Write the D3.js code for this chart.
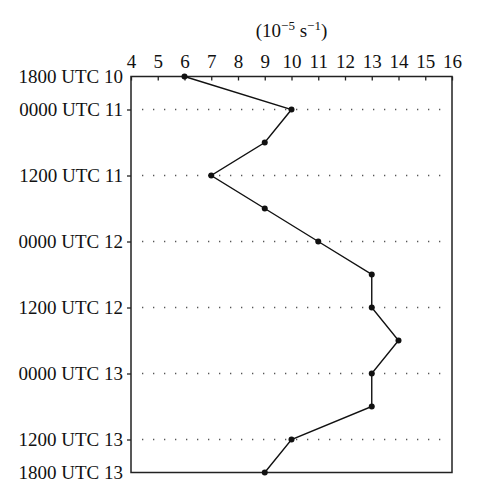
<!DOCTYPE html>
<html>
<head>
<meta charset="utf-8">
<script src="https://cdn.jsdelivr.net/npm/d3@7"></script>
<style>
body { margin: 0; background: #fff; }
text { font-family: "Liberation Serif", "DejaVu Serif", serif; fill: #111; }
</style>
</head>
<body>
<script>
// hours after 1800 UTC 10 and the value at each time
const hours = [0, 6, 12, 18, 24, 30, 36, 42, 48, 54, 60, 66, 72];
const values = [6, 10, 9, 7, 9, 11, 13, 13, 14, 13, 13, 10, 9];
const xTicks = [4, 5, 6, 7, 8, 9, 10, 11, 12, 13, 14, 15, 16];
const yTickHours = [0, 6, 18, 30, 42, 54, 66, 72];
const yTickLabels = ['1800 UTC 10', '0000 UTC 11', '1200 UTC 11', '0000 UTC 12',
                     '1200 UTC 12', '0000 UTC 13', '1200 UTC 13', '1800 UTC 13'];
const gridHours = [6, 18, 30, 42, 54, 66];

const width = 477, height = 500;
const plotLeft = 131, plotRight = 452, plotTop = 76.5, plotBottom = 472.5;

const svg = d3.select('body').append('svg')
  .attr('width', width)
  .attr('height', height);

const x = d3.scaleLinear().domain([4, 16]).range([plotLeft, plotRight]);
const y = d3.scaleLinear().domain([0, 72]).range([plotTop, plotBottom]);

// dotted gridlines
svg.append('g').selectAll('line')
  .data(gridHours)
  .enter().append('line')
  .attr('x1', plotLeft + 11).attr('x2', plotRight - 2)
  .attr('y1', d => y(d)).attr('y2', d => y(d))
  .style('stroke', '#555')
  .style('stroke-width', 1.3)
  .style('stroke-dasharray', '1.3,9.7');

// frame
svg.append('rect')
  .attr('x', plotLeft).attr('y', plotTop)
  .attr('width', plotRight - plotLeft).attr('height', plotBottom - plotTop)
  .style('fill', 'none').style('stroke', '#222').style('stroke-width', 1.5);

// top axis, ticks pointing inside
const xAxis = d3.axisTop(x).tickValues(xTicks).tickSizeInner(-4).tickSizeOuter(0).tickPadding(9);
const gx = svg.append('g').attr('transform', `translate(0,${plotTop})`).call(xAxis);
gx.select('.domain').remove();
gx.selectAll('.tick line').style('stroke', '#222').style('stroke-width', 1.3);
gx.selectAll('.tick text').style('font-size', '19px').attr('dy', 0);

// left axis
const yAxis = d3.axisLeft(y).tickValues(yTickHours)
  .tickFormat((d, i) => yTickLabels[i]).tickSizeOuter(0).tickSize(4).tickPadding(4);
const gy = svg.append('g').attr('transform', `translate(${plotLeft},0)`).call(yAxis);
gy.select('.domain').remove();
gy.selectAll('.tick line')
  .style('stroke', (d) => (d === 0 || d === 72) ? 'none' : '#222')
  .style('stroke-width', 1.3);
gy.selectAll('.tick text').style('font-size', '19px');

// unit label
const unit = svg.append('text')
  .attr('x', (plotLeft + plotRight) / 2).attr('y', 37)
  .attr('text-anchor', 'middle')
  .style('font-size', '19px');
unit.append('tspan').text('(10');
unit.append('tspan').text('\u22125').attr('dy', -7).style('font-size', '13px');
unit.append('tspan').text(' s').attr('dy', 7);
unit.append('tspan').text('\u22121').attr('dy', -7).style('font-size', '13px');
unit.append('tspan').text(')').attr('dy', 7);

const pts = hours.map((h, i) => ({ h: h, v: values[i] }));

svg.append('path')
  .datum(pts)
  .attr('d', d3.line().x(d => x(d.v)).y(d => y(d.h)))
  .style('fill', 'none').style('stroke', '#111').style('stroke-width', 1.4);

svg.append('g').selectAll('circle')
  .data(pts)
  .enter().append('circle')
  .attr('cx', d => x(d.v)).attr('cy', d => y(d.h))
  .attr('r', 3)
  .style('fill', '#111');
</script>
</body>
</html>
